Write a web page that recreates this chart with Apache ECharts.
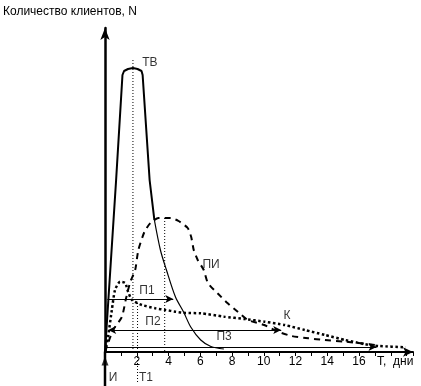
<!DOCTYPE html>
<html><head><meta charset="utf-8">
<script src="https://cdn.jsdelivr.net/npm/echarts@6/dist/echarts.min.js"></script>
<style>html,body{margin:0;padding:0;background:#fff}#c{width:421px;height:386px}</style>
</head><body><div id="c"></div>
<script>
// ТВ curve (solid)
const tvT = [0, 0.70, 1.10, 1.20, 1.45, 1.76, 2.05, 2.30, 2.37, 2.81, 3.11, 3.49, 3.87, 4.44, 4.95, 5.40, 6.03, 6.67, 7.49];
const tvN = [0, 172, 277, 281, 283, 284, 283, 281, 277, 172, 132, 102, 82, 55, 40, 25, 12, 5.5, 3];
// ПИ curve (dashed)
const piT = [0, 0.13, 0.51, 1.06, 1.33, 1.59, 1.90, 2.10, 2.48, 2.86, 3.37, 4.13, 4.63, 5.21, 5.43, 5.59, 5.84, 6.22, 6.48, 7.09, 7.73, 8.36, 9.00, 10.03, 10.90, 11.75, 12.81, 13.84, 15.11, 16.19, 17.02];
const piN = [0, 6, 22, 35, 54, 70, 82, 102, 120, 129, 134, 134, 131, 124, 115, 102, 92, 82, 69, 58.7, 48.7, 40.3, 32, 27, 20.3, 16, 13.7, 12, 10.3, 8.7, 7];
// К curve (dotted)
const kT = [0, 0.19, 0.43, 0.63, 0.95, 1.27, 1.46, 1.70, 2.33, 3.17, 3.81, 4.44, 5.08, 6.03, 7.51, 8.78, 10.05, 11.32, 12.59, 13.86, 15.13, 16.40, 17.25, 18.94];
const kN = [0, 15, 42, 62, 70.3, 69, 60, 52, 47, 43.7, 42, 40.3, 39, 38.7, 35.3, 33, 30.3, 27, 22, 17, 12, 7.7, 6, 4.7];
// x-axis tick labels
const tickLabels = ['2', '4', '6', '8', '10', '12', '14', '16'];
// interval arrows: [name, startT, endT, level N]
const arrowNames = ['П1', 'П2', 'П3'];
const arrowStart = [0.15, 0.2, 0.1];
const arrowEnd = [4.3, 11.1, 17.1];
const arrowLevel = [53, 22, 5];
// vertical dotted guides: [T, topN, bottomN]
const guideT = [1.76, 2.05, 3.76];
const guideTop = [292, 49, 134];
const guideBottom = [0, -30, 0];
// y-axis extension below the time axis and start marker "И"
const axisExtBottom = -34;
const startMarkN = -9;
// text labels
const labelText = ['ТВ', 'ПИ', 'К', 'П1', 'П2', 'П3', 'И', 'Т1'];
const labelT = [2.83, 6.68, 11.46, 2.64, 3.02, 7.5, 0.5, 2.58];
const labelN = [289, 87, 36, 61, 30, 15, -26, -26];

const zip = (a, b) => a.map((v, i) => [v, b[i]]);
const tv = zip(tvT, tvN);
const font = 'Liberation Sans, Arial, sans-serif';

const guideSeries = guideT.map((t, i) => ({
  type: 'line', clip: false, silent: true, showSymbol: false,
  data: [[t, guideTop[i]], [t, guideBottom[i]]],
  lineStyle: {color: '#000', width: 1, type: [1, 2]}
}));

const chart = echarts.init(document.getElementById('c'), null, {renderer: 'canvas'});
chart.setOption({
  animation: false,
  backgroundColor: '#fff',
  grid: {left: 105, right: 8, top: 28, bottom: 34, containLabel: false},
  graphic: [
    {type: 'text', left: 3, top: 6, style: {text: 'Количество клиентов, N', font: '12px ' + font, fill: '#000'}},
    {type: 'text', left: 377, top: 356, style: {text: 'T,  дни', font: '12px ' + font, fill: '#000'}}
  ],
  xAxis: {
    type: 'value', min: 0, max: 19.4, interval: 1,
    axisLine: {symbol: ['none', 'arrow'], symbolSize: [7, 10], lineStyle: {color: '#000', width: 2}},
    axisTick: {show: true, length: 4, inside: false, lineStyle: {color: '#000', width: 1}},
    axisLabel: {show: true, margin: 4, fontSize: 12, fontFamily: font, color: '#000',
      formatter: v => { const s = String(v); return tickLabels.includes(s) ? s : ''; }},
    splitLine: {show: false}
  },
  yAxis: {
    type: 'value', min: 0, max: 324,
    axisLine: {show: true, symbol: ['none', 'arrow'], symbolSize: [7, 12], lineStyle: {color: '#000', width: 2.5}},
    axisTick: {show: false}, axisLabel: {show: false}, splitLine: {show: false}
  },
  series: [
    {type: 'line', clip: false, data: tv.slice(0, 11), showSymbol: false, lineStyle: {color: '#000', width: 2}},
    {type: 'line', clip: false, data: tv.slice(10), showSymbol: false, smooth: 0.3, lineStyle: {color: '#000', width: 1.2}},
    {type: 'line', clip: false, data: zip(piT, piN), showSymbol: false, smooth: 0.2, lineStyle: {color: '#000', width: 2, type: [6, 5]}},
    {type: 'line', clip: false, data: zip(kT, kN), showSymbol: false, smooth: 0.2, lineStyle: {color: '#000', width: 2.5, type: [2.5, 2.5]}},
    ...guideSeries,
    {type: 'line', clip: false, silent: true, showSymbol: false,
      data: [[0, 0], [0, axisExtBottom]], lineStyle: {color: '#000', width: 2.5}},
    {type: 'scatter', clip: false, silent: true, symbol: 'triangle', symbolSize: [7, 9],
      data: [[0, startMarkN]], itemStyle: {color: '#000'}},
    {type: 'line', data: [], silent: true,
      markLine: {silent: true, animation: false, label: {show: false}, symbolSize: [6, 8],
        lineStyle: {color: '#000', width: 1, type: 'solid'},
        data: arrowNames.map((n, i) => [{coord: [arrowStart[i], arrowLevel[i]], symbol: i === 1 ? 'arrow' : 'none'}, {coord: [arrowEnd[i], arrowLevel[i]], symbol: 'arrow'}])}},
    {type: 'scatter', clip: false, symbolSize: 0, silent: true,
      data: labelText.map((s, i) => ({value: [labelT[i], labelN[i]], name: s})),
      label: {show: true, position: 'inside', formatter: p => p.name, fontSize: 12, fontFamily: font, color: '#000'}}
  ]
});
</script></body></html>
